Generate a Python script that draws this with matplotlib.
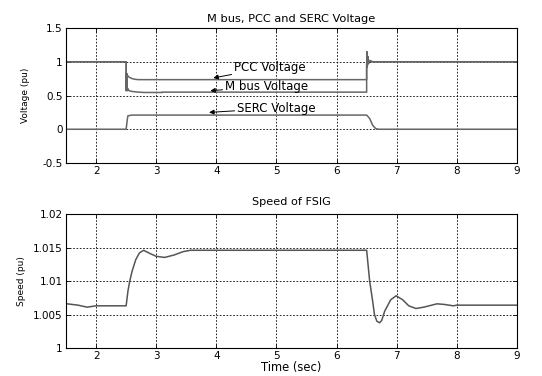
import matplotlib
matplotlib.use("Agg")
import matplotlib.pyplot as plt

plt.rcParams['font.family'] = ['DejaVu Sans']

# voltage traces (time in sec, voltage in pu)
t_pcc = [1.5, 2.5, 2.5, 2.505, 2.51, 2.515, 2.52, 2.55, 2.6, 2.65, 2.7, 6.5, 6.5, 6.505, 6.51, 6.52, 6.53, 6.55, 6.6, 9.0]
v_pcc = [1.0, 1.0, 0.6, 0.83, 0.62, 0.82, 0.80, 0.77, 0.75, 0.74, 0.735, 0.735, 0.95, 1.15, 0.92, 1.08, 0.97, 1.02, 1.0, 1.0]

t_mbus = [1.5, 2.5, 2.5, 2.505, 2.51, 2.515, 2.52, 2.53, 2.55, 2.6, 2.7, 2.8, 3.1, 3.1, 6.5, 6.5, 6.505, 6.51, 6.52, 6.53, 6.55, 6.6, 9.0]
v_mbus = [1.0, 1.0, 0.57, 0.78, 0.58, 0.72, 0.57, 0.60, 0.57, 0.56, 0.55, 0.545, 0.545, 0.55, 0.55, 0.9, 1.12, 0.93, 1.06, 0.98, 1.01, 1.0, 1.0]

t_serc = [1.5, 2.5, 2.52, 2.53, 2.6, 6.5, 6.55, 6.6, 6.65, 6.7, 9.0]
v_serc = [0.0, 0.0, 0.15, 0.20, 0.21, 0.21, 0.16, 0.06, 0.01, 0.0, 0.0]

# generator speed (pu)
t_speed = [1.5, 1.7, 1.85, 2.0, 2.5, 2.53, 2.56, 2.6, 2.66, 2.72, 2.79, 2.9, 3.0, 3.14, 3.3, 3.45, 3.57,
           6.5, 6.55, 6.6, 6.63, 6.67, 6.715, 6.75, 6.8, 6.9, 6.99, 7.1, 7.2, 7.32, 7.45, 7.67, 7.8, 7.94, 8.0, 9.0]
s_speed = [1.00662, 1.0064, 1.0061, 1.0063, 1.0063, 1.0085, 1.0100, 1.0115, 1.0132, 1.0142, 1.0146, 1.0141,
           1.0137, 1.01353, 1.0139, 1.0144, 1.0146,
           1.0146, 1.0100, 1.0070, 1.0050, 1.0040, 1.00377, 1.0041, 1.0055, 1.0072, 1.0078, 1.0072, 1.0063,
           1.0059, 1.0061, 1.0066, 1.0065, 1.0063, 1.0064, 1.0064]

xticks = [2, 3, 4, 5, 6, 7, 8, 9]
fs = 7.5
line_c = '#666666'

fig = plt.figure(figsize=(5.42, 3.76), dpi=100)
ax1 = fig.add_axes([0.1218, 0.5665, 0.832, 0.359])
ax2 = fig.add_axes([0.1218, 0.0745, 0.832, 0.356])

ax1.plot(t_pcc, v_pcc, color=line_c, lw=1.1)
ax1.plot(t_mbus, v_mbus, color=line_c, lw=1.1)
ax1.plot(t_serc, v_serc, color=line_c, lw=1.1)
ax1.set_xlim(1.5, 9)
ax1.set_ylim(-0.5, 1.5)
ax1.set_yticks([-0.5, 0, 0.5, 1, 1.5])
ax1.set_yticklabels(['-0.5', '0', '0.5', '1', '1.5'])
ax1.set_title('M bus, PCC and SERC Voltage', fontsize=8.2, pad=4.5)
ax1.set_ylabel('Voltage (pu)', fontsize=6.5, labelpad=9)

arrow = dict(arrowstyle='-|>', color='black', lw=0.7, mutation_scale=7,
             shrinkA=0, shrinkB=0)
ax1.annotate('PCC Voltage', xy=(3.95, 0.76), xytext=(4.3, 0.92), fontsize=8.5,
             va='center', ha='left', arrowprops=arrow)
ax1.annotate('M bus Voltage', xy=(3.9, 0.57), xytext=(4.15, 0.64), fontsize=8.5,
             va='center', ha='left', arrowprops=arrow)
ax1.annotate('SERC Voltage', xy=(3.88, 0.25), xytext=(4.35, 0.31), fontsize=8.5,
             va='center', ha='left', arrowprops=arrow)

ax2.plot(t_speed, s_speed, color='#555555', lw=1.1)
ax2.set_xlim(1.5, 9)
ax2.set_ylim(1.0, 1.02)
ax2.set_yticks([1.0, 1.005, 1.01, 1.015, 1.02])
ax2.set_yticklabels(['1', '1.005', '1.01', '1.015', '1.02'])
ax2.set_title('Speed of FSIG', fontsize=8.1, pad=6.5)
ax2.set_ylabel('Speed (pu)', fontsize=6.5, labelpad=5)
ax2.set_xlabel('Time (sec)', fontsize=8.3, labelpad=0)

for ax in (ax1, ax2):
    ax.set_xticks(xticks)
    ax.grid(True, color='black', linestyle=(0, (2, 2)), lw=0.6)
    ax.tick_params(labelsize=fs, direction='in', length=3, width=0.6, top=True, right=True, pad=2.5)
    for sp in ax.spines.values():
        sp.set_linewidth(0.8)

fig.savefig('out.png', dpi=100)
